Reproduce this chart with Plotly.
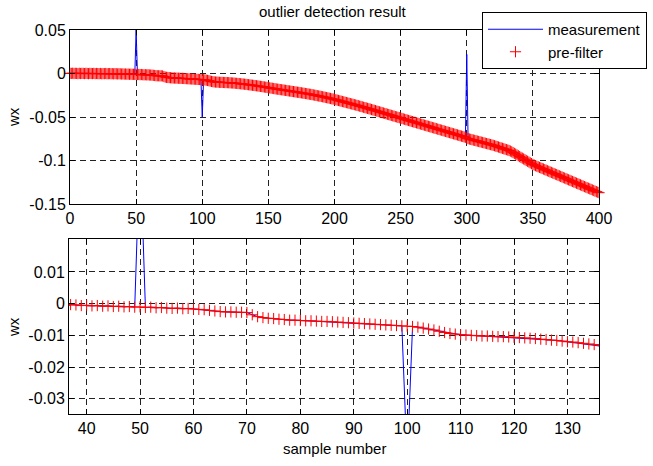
import plotly.graph_objects as go

W, H = 653, 466

sample = list(range(0, 401))
prefilter = [
    0.0002, 0.0001, 0.0003, 0.0000, 0.0002, 0.0001, -0.0001, 0.0002, 0.0000, 0.0001,
    0.0001, -0.0001, 0.0002, 0.0000, -0.0002, 0.0001, 0.0000, -0.0001, 0.0001, -0.0002,
    0.0000, -0.0001, -0.0002, 0.0000, -0.0003, -0.0001, -0.0002, 0.0000, -0.0003, -0.0002,
    -0.0001, -0.0003, -0.0002, -0.0004, -0.0002, -0.0003, -0.0005, -0.0003, -0.0004, -0.0006,
    -0.0005, -0.0007, -0.0006, -0.0008, -0.0007, -0.0009, -0.0008, -0.0010, -0.0009, -0.0011,
    -0.0010, -0.0012, -0.0011, -0.0013, -0.0012, -0.0014, -0.0015, -0.0014, -0.0016, -0.0015,
    -0.0017, -0.0018, -0.0019, -0.0021, -0.0023, -0.0025, -0.0026, -0.0026, -0.0027, -0.0027,
    -0.0028, -0.0035, -0.0041, -0.0044, -0.0046, -0.0047, -0.0049, -0.0050, -0.0052, -0.0052,
    -0.0053, -0.0054, -0.0054, -0.0055, -0.0056, -0.0056, -0.0057, -0.0058, -0.0059, -0.0060,
    -0.0061, -0.0062, -0.0063, -0.0064, -0.0065, -0.0066, -0.0067, -0.0068, -0.0069, -0.0070,
    -0.0071, -0.0072, -0.0074, -0.0077, -0.0080, -0.0083, -0.0087, -0.0091, -0.0094, -0.0096,
    -0.0098, -0.0099, -0.0100, -0.0101, -0.0102, -0.0102, -0.0103, -0.0104, -0.0104, -0.0105,
    -0.0106, -0.0107, -0.0108, -0.0109, -0.0110, -0.0112, -0.0113, -0.0115, -0.0116, -0.0118,
    -0.0120, -0.0121, -0.0123, -0.0125, -0.0127, -0.0129, -0.0131, -0.0133, -0.0135, -0.0137,
    -0.0139, -0.0141, -0.0143, -0.0146, -0.0148, -0.0150, -0.0153, -0.0155, -0.0158, -0.0160,
    -0.0163, -0.0165, -0.0168, -0.0170, -0.0173, -0.0175, -0.0178, -0.0180, -0.0182, -0.0185,
    -0.0187, -0.0189, -0.0192, -0.0194, -0.0196, -0.0199, -0.0201, -0.0203, -0.0206, -0.0208,
    -0.0210, -0.0213, -0.0215, -0.0217, -0.0220, -0.0222, -0.0225, -0.0227, -0.0230, -0.0232,
    -0.0235, -0.0238, -0.0240, -0.0243, -0.0246, -0.0249, -0.0252, -0.0255, -0.0258, -0.0261,
    -0.0264, -0.0267, -0.0270, -0.0274, -0.0277, -0.0280, -0.0284, -0.0287, -0.0291, -0.0294,
    -0.0298, -0.0302, -0.0306, -0.0310, -0.0314, -0.0318, -0.0322, -0.0326, -0.0330, -0.0334,
    -0.0338, -0.0342, -0.0346, -0.0350, -0.0354, -0.0358, -0.0362, -0.0366, -0.0370, -0.0375,
    -0.0379, -0.0383, -0.0388, -0.0392, -0.0396, -0.0401, -0.0405, -0.0409, -0.0414, -0.0418,
    -0.0423, -0.0427, -0.0432, -0.0436, -0.0441, -0.0445, -0.0450, -0.0454, -0.0459, -0.0463,
    -0.0468, -0.0472, -0.0477, -0.0481, -0.0486, -0.0490, -0.0495, -0.0499, -0.0504, -0.0508,
    -0.0513, -0.0517, -0.0522, -0.0526, -0.0531, -0.0535, -0.0540, -0.0544, -0.0549, -0.0553,
    -0.0558, -0.0562, -0.0567, -0.0571, -0.0576, -0.0580, -0.0585, -0.0589, -0.0594, -0.0598,
    -0.0603, -0.0607, -0.0612, -0.0616, -0.0621, -0.0625, -0.0630, -0.0634, -0.0639, -0.0643,
    -0.0648, -0.0652, -0.0657, -0.0661, -0.0666, -0.0670, -0.0675, -0.0679, -0.0684, -0.0688,
    -0.0693, -0.0697, -0.0702, -0.0706, -0.0711, -0.0715, -0.0720, -0.0724, -0.0729, -0.0733,
    -0.0745, -0.0749, -0.0753, -0.0757, -0.0761, -0.0765, -0.0769, -0.0773, -0.0777, -0.0781,
    -0.0785, -0.0789, -0.0793, -0.0797, -0.0801, -0.0805, -0.0809, -0.0813, -0.0817, -0.0821,
    -0.0825, -0.0830, -0.0835, -0.0840, -0.0845, -0.0850, -0.0855, -0.0860, -0.0865, -0.0870,
    -0.0875, -0.0880, -0.0885, -0.0892, -0.0900, -0.0909, -0.0918, -0.0927, -0.0936, -0.0945,
    -0.0955, -0.0964, -0.0973, -0.0982, -0.0991, -0.1000, -0.1009, -0.1018, -0.1027, -0.1036,
    -0.1045, -0.1052, -0.1059, -0.1066, -0.1072, -0.1079, -0.1085, -0.1092, -0.1098, -0.1105,
    -0.1111, -0.1118, -0.1124, -0.1131, -0.1137, -0.1144, -0.1150, -0.1157, -0.1163, -0.1170,
    -0.1176, -0.1183, -0.1189, -0.1196, -0.1202, -0.1209, -0.1215, -0.1222, -0.1228, -0.1235,
    -0.1241, -0.1248, -0.1254, -0.1261, -0.1267, -0.1274, -0.1280, -0.1287, -0.1293, -0.1300,
    -0.1306, -0.1313, -0.1319, -0.1326, -0.1332, -0.1339, -0.1345, -0.1352, -0.1358, -0.1364,
    -0.1370,
]
outlier_sample = [50, 100, 300]
outlier_value = [0.05, -0.05, 0.022]

measurement = list(prefilter)
for s, v in zip(outlier_sample, outlier_value):
    measurement[sample.index(s)] = v

top_xticks = [0, 50, 100, 150, 200, 250, 300, 350, 400]
top_yticks = [0.05, 0, -0.05, -0.1, -0.15]
top_ytext = ["0.05", "0", "-0.05", "-0.1", "-0.15"]
bot_xticks = [40, 50, 60, 70, 80, 90, 100, 110, 120, 130]
bot_yticks = [0.01, 0, -0.01, -0.02, -0.03]
bot_ytext = ["0.01", "0", "-0.01", "-0.02", "-0.03"]

FONT = "Liberation Sans, Arial, sans-serif"
FS = 15
TFS = 16

fig = go.Figure()
fig.add_trace(go.Scatter(x=sample, y=measurement, mode="lines", name="measurement",
                         line=dict(color="#0000ff", width=1), xaxis="x", yaxis="y"))
fig.add_trace(go.Scatter(x=sample, y=prefilter, mode="markers", name="pre-filter",
                         marker=dict(symbol="cross-thin", size=8, color="#ff0000",
                                     line=dict(color="#ff0000", width=1)),
                         cliponaxis=False, xaxis="x", yaxis="y"))
fig.add_trace(go.Scatter(x=sample, y=measurement, mode="lines", showlegend=False,
                         line=dict(color="#0000ff", width=1), xaxis="x2", yaxis="y2"))
fig.add_trace(go.Scatter(x=sample, y=prefilter, mode="markers", showlegend=False,
                         marker=dict(symbol="cross-thin", size=8, color="#ff0000",
                                     line=dict(color="#ff0000", width=1)),
                         xaxis="x2", yaxis="y2"))

def ax(**kw):
    d = dict(showline=True, linecolor="black", linewidth=1, mirror="allticks",
             ticks="inside", ticklen=5, tickcolor="black",
             showgrid=True, gridcolor="#222222", gridwidth=1, griddash="6px,4px",
             zeroline=False, automargin=False,
             tickfont=dict(family=FONT, size=TFS, color="black"))
    d.update(kw)
    return d

fig.update_layout(
    width=W, height=H, margin=dict(l=0, r=0, t=0, b=0, pad=0, autoexpand=False),
    paper_bgcolor="white", plot_bgcolor="white",
    font=dict(family=FONT, size=FS, color="black"),
    xaxis=ax(domain=[70 / W, 599 / W], range=[0, 400], tickvals=top_xticks, anchor="y"),
    yaxis=ax(domain=[1 - 204 / H, 1 - 30 / H], range=[-0.15, 0.05], tickvals=top_yticks,
             ticktext=top_ytext, anchor="x"),
    xaxis2=ax(domain=[69 / W, 599 / W], range=[36.7, 135.9], tickvals=bot_xticks, anchor="y2"),
    yaxis2=ax(domain=[1 - 414 / H, 1 - 239 / H], range=[-0.0348, 0.0204], tickvals=bot_yticks,
              ticktext=bot_ytext, anchor="x2"),
    legend=dict(x=647 / W, xanchor="right", y=1 - 12 / H, yanchor="top",
                bgcolor="white", bordercolor="black", borderwidth=1, itemwidth=55,
                tracegroupgap=0,
                font=dict(family=FONT, size=FS, color="black")),
    showlegend=True,
    annotations=[
        dict(text="outlier detection result", x=333 / W, y=1 - 12 / H, xref="paper", yref="paper",
             showarrow=False, xanchor="center", yanchor="middle", font=dict(size=FS)),
        dict(text="wx", x=13 / W, y=1 - 117 / H, xref="paper", yref="paper", textangle=-90,
             showarrow=False, xanchor="center", yanchor="middle", font=dict(size=FS)),
        dict(text="wx", x=13 / W, y=1 - 327 / H, xref="paper", yref="paper", textangle=-90,
             showarrow=False, xanchor="center", yanchor="middle", font=dict(size=FS)),
        dict(text="sample number", x=334 / W, y=1 - 448 / H, xref="paper", yref="paper",
             showarrow=False, xanchor="center", yanchor="middle", font=dict(size=FS)),
    ],
)

fig.write_html("out.html")
